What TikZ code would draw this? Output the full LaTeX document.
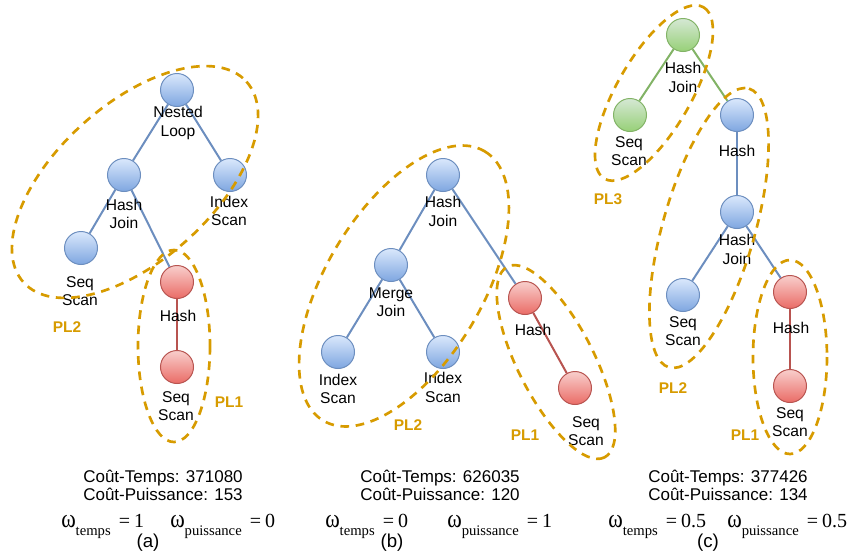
\documentclass[tikz,border=0pt]{standalone}
\usepackage{graphicx}
\usepackage{fontspec}
\setmainfont{Liberation Sans}
\newfontfamily\tnr{Liberation Serif}
\usetikzlibrary{shapes.geometric}
\definecolor{plc}{HTML}{D79B00}
\definecolor{bstroke}{HTML}{6C8EBF}
\definecolor{btop}{HTML}{DAE8FC}
\definecolor{bbot}{HTML}{7EA6E0}
\definecolor{rstroke}{HTML}{B85450}
\definecolor{rtop}{HTML}{F8CECC}
\definecolor{rbot}{HTML}{EA6B66}
\definecolor{gstroke}{HTML}{82B366}
\definecolor{gtop}{HTML}{D5E8D4}
\definecolor{gbot}{HTML}{97D077}
\newcommand\subtx[1]{\raisebox{-6pt}{\fontsize{11}{11}\selectfont #1}}
\newcommand\omg{\scalebox{1.1}[1.3]{ω}}
\tikzset{
  opnode/.style={circle, minimum size=24.75pt, inner sep=0pt, line width=0.75pt},
  bluenode/.style={opnode, draw=bstroke, top color=btop, bottom color=bbot},
  rednode/.style={opnode, draw=rstroke, top color=rtop, bottom color=rbot},
  greennode/.style={opnode, draw=gstroke, top color=gtop, bottom color=gbot},
  lbl/.style={align=center, inner sep=0pt, font=\fontsize{11.7}{13.9}\selectfont},
  bedge/.style={draw=bstroke, line width=1.5pt},
  redge/.style={draw=rstroke, line width=1.5pt},
  gedge/.style={draw=gstroke, line width=1.5pt},
  plbox/.style={draw=plc, line width=2pt, dash pattern=on 6.5pt off 5pt},
  pltext/.style={text=plc, inner sep=0pt, font=\bfseries\fontsize{11.6}{14}\selectfont},
  costtxt/.style={inner sep=0pt, anchor=base, font=\fontsize{12.75}{15}\selectfont},
  wtxt/.style={inner sep=0pt, anchor=base west, font=\tnr\fontsize{15}{18}\selectfont},
  captxt/.style={inner sep=0pt, font=\fontsize{14}{16}\selectfont}
}
\begin{document}
\begin{tikzpicture}[x=0.75pt, y=-0.75pt]
\useasboundingbox (0,0) rectangle (858,554);

% ---------------- panel (a) ----------------
\node[bluenode] (a1) at (177,90) {};
\node[bluenode] (a2) at (124,175) {};
\node[bluenode] (a3) at (230,175) {};
\node[bluenode] (a4) at (81,248) {};
\node[rednode]  (a5) at (177,282) {};
\node[rednode]  (a6) at (177,367) {};
\draw[bedge] (a1) -- (a2);
\draw[bedge] (a1) -- (a3);
\draw[bedge] (a2) -- (a4);
\draw[bedge] (a2) -- (a5);
\draw[redge] (a5) -- (a6);
\node[lbl] (la1) at (178,123) {Nested\\Loop};
\node[lbl] (la2) at (124,214) {Hash\\Join};
\node[lbl] (la3) at (229,211) {Index\\Scan};
\node[lbl] (la4) at (80,291) {Seq\\Scan};
\node[lbl] (la5) at (178,316) {Hash};
\node[lbl] (la6) at (176,406) {Seq\\Scan};
\draw[plbox, rotate around={42:(135,182)}] (135,182) ellipse (150 and 78);
\draw[plbox] (174,346) ellipse (36 and 96);
\node[pltext] (pa2) at (67,327) {PL2};
\node[pltext] (pa1) at (229,402) {PL1};
\node[costtxt] (ta1) at (163,482) {Coût-Temps: 371080};
\node[costtxt] (ta2) at (163,500) {Coût-Puissance: 153};
\node[wtxt] (wa1) at (61,527) {\omg\subtx{temps}\hspace{6pt}=\hspace{3pt}1};
\node[wtxt] (wa2) at (170,527) {\omg\subtx{puissance}\hspace{6pt}=\hspace{3pt}0};
\node[captxt] (capa) at (148,543) {(a)};

% ---------------- panel (b) ----------------
\node[bluenode] (b1) at (443,175) {};
\node[bluenode] (b2) at (391,265) {};
\node[bluenode] (b3) at (338,352) {};
\node[bluenode] (b4) at (443,352) {};
\node[rednode]  (b5) at (525,298) {};
\node[rednode]  (b6) at (575,388) {};
\draw[bedge] (b1) -- (b2);
\draw[bedge] (b1) -- (b5);
\draw[bedge] (b2) -- (b3);
\draw[bedge] (b2) -- (b4);
\draw[redge] (b5) -- (b6);
\node[lbl] (lb1) at (443,211.5) {Hash\\Join};
\node[lbl] (lb2) at (391,302) {Merge\\Join};
\node[lbl] (lb3) at (338,389) {Index\\Scan};
\node[lbl] (lb4) at (443,387.5) {Index\\Scan};
\node[lbl] (lb5) at (533,330) {Hash};
\node[lbl] (lb6) at (586,431) {Seq\\Scan};
\draw[plbox, rotate around={59:(404,286)}] (404,286) ellipse (157 and 78);
\draw[plbox, rotate around={-63:(556,362)}] (556,362) ellipse (107 and 38);
\node[pltext] (pb2) at (408,425) {PL2};
\node[pltext] (pb1) at (525,435) {PL1};
\node[costtxt] (tb1) at (440,482) {Coût-Temps: 626035};
\node[costtxt] (tb2) at (440,500) {Coût-Puissance: 120};
\node[wtxt] (wb1) at (325,527) {\omg\subtx{temps}\hspace{6pt}=\hspace{3pt}0};
\node[wtxt] (wb2) at (447,527) {\omg\subtx{puissance}\hspace{6pt}=\hspace{3pt}1};
\node[captxt] (capb) at (392,543) {(b)};

% ---------------- panel (c) ----------------
\node[greennode] (c1) at (683,35) {};
\node[greennode] (c2) at (630,115) {};
\node[bluenode]  (c3) at (737,115) {};
\node[bluenode]  (c4) at (737,212) {};
\node[bluenode]  (c5) at (683,295) {};
\node[rednode]   (c6) at (790,292) {};
\node[rednode]   (c7) at (790,386) {};
\draw[gedge] (c1) -- (c2);
\draw[gedge] (c1) -- (c3);
\draw[bedge] (c3) -- (c4);
\draw[bedge] (c4) -- (c5);
\draw[bedge] (c4) -- (c6);
\draw[redge] (c6) -- (c7);
\node[lbl] (lc1) at (683,77.5) {Hash\\Join};
\node[lbl] (lc2) at (629,151) {Seq\\Scan};
\node[lbl] (lc3) at (737,151) {Hash};
\node[lbl] (lc4) at (737,249.5) {Hash\\Join};
\node[lbl] (lc5) at (683,331) {Seq\\Scan};
\node[lbl] (lc6) at (791,328) {Hash};
\node[lbl] (lc7) at (790,422) {Seq\\Scan};
\draw[plbox, rotate around={60:(654,93)}] (654,93) ellipse (99 and 37);
\draw[plbox, rotate around={74:(709,228)}] (709,228) ellipse (145 and 46);
\draw[plbox] (790,357) ellipse (37 and 97);
\node[pltext] (pc3) at (608,199) {PL3};
\node[pltext] (pc2) at (673,388) {PL2};
\node[pltext] (pc1) at (745,435) {PL1};
\node[costtxt] (tc1) at (728,482) {Coût-Temps: 377426};
\node[costtxt] (tc2) at (728,500) {Coût-Puissance: 134};
\node[wtxt] (wc1) at (608,527) {\omg\subtx{temps}\hspace{6pt}=\hspace{3pt}0.5};
\node[wtxt] (wc2) at (727,527) {\omg\subtx{puissance}\hspace{6pt}=\hspace{3pt}0.5};
\node[captxt] (capc) at (708,543) {(c)};
\end{tikzpicture}
\end{document}
